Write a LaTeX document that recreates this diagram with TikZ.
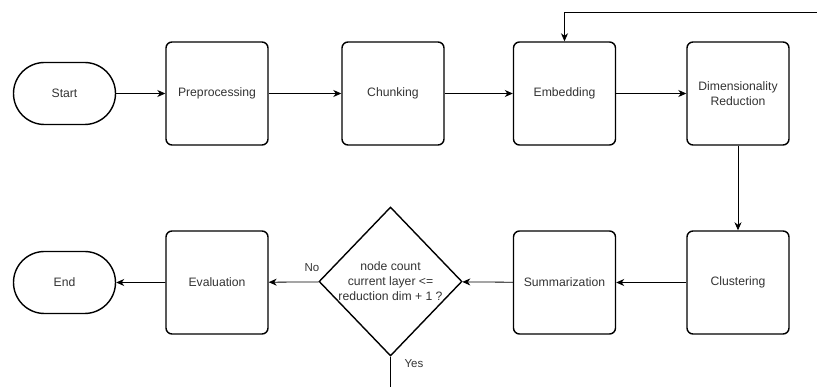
\documentclass[tikz,border=0pt]{standalone}
\usepackage{fontspec}
\setmainfont{Liberation Sans}
\usetikzlibrary{shapes.geometric,shapes.misc,arrows.meta}
\begin{document}
\begin{tikzpicture}[x=1pt,y=-1pt,
  font=\fontsize{12.2}{15}\selectfont,
  every node/.style={text=black!80},
  proc/.style={draw=black,line width=1.4pt,rounded corners=6pt,minimum width=102pt,minimum height=103pt,align=center,inner sep=0pt},
  term/.style={draw=black,line width=1.4pt,rounded rectangle,minimum width=102pt,minimum height=62pt,inner sep=0pt},
  dec/.style={draw=black,line width=1.4pt,diamond,minimum width=143pt,minimum height=149pt,align=center,inner sep=0pt,aspect=0.96},
  conn/.style={draw=black,line width=0.8pt,-{Stealth[length=8pt,width=7pt,inset=2.5pt]}},
  lab/.style={font=\fontsize{11.5}{13}\selectfont}
]
\useasboundingbox (0,0) rectangle (817,387);
\node[term] (start) at (64.5,93.5) {Start};
\node[proc] (pre) at (217,93.5) {Preprocessing};
\node[proc] (chunk) at (393,93.5) {Chunking};
\node[proc] (emb) at (564.5,93.5) {Embedding};
\node[proc] (dim) at (738,93.5) {Dimensionality\\Reduction};
\node[proc] (clu) at (738,282.5) {Clustering};
\node[proc] (sum) at (564.5,282.5) {Summarization};
\node[dec] (dec) at (390.5,281.5) {node count\\current layer <=\\reduction dim + 1 ?};
\node[proc] (eva) at (217,282.5) {Evaluation};
\node[term] (end) at (64.5,282.5) {End};
\coordinate (fb) at (817,12);
\coordinate (yes) at (390.5,387);
\draw[conn] (start) -- (pre);
\draw[conn] (pre) -- (chunk);
\draw[conn] (chunk) -- (emb);
\draw[conn] (emb) -- (dim);
\draw[conn] (dim) -- (clu);
\draw[conn] (clu) -- (sum);
\draw[conn] (sum) -- (dec);
\draw[conn] (dec) -- (eva);
\draw[conn] (eva) -- (end);
\draw[conn] (fb) -| (emb.north);
\draw[line width=0.8pt] (dec.south) -- (yes);
\node[lab] at (312,268) {No};
\node[lab] at (414,364) {Yes};
\end{tikzpicture}
\end{document}
